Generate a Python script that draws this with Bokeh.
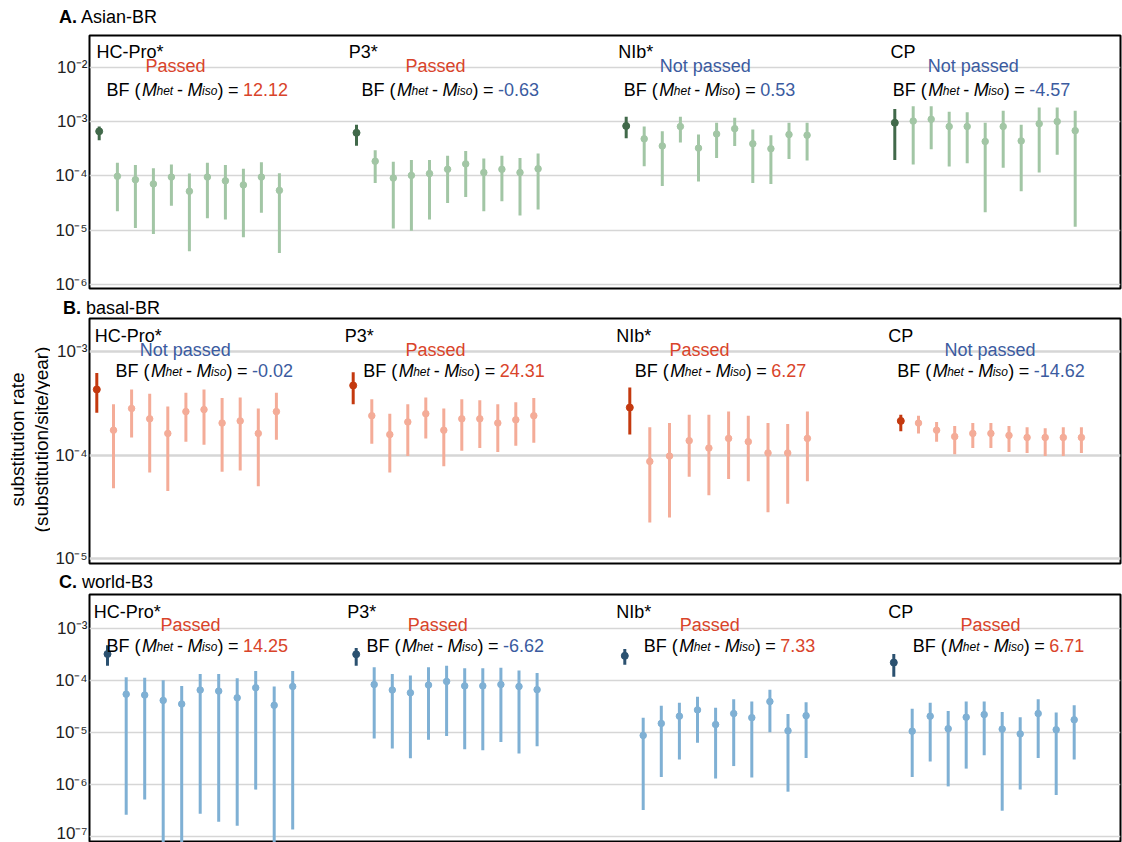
import math
from bokeh.plotting import figure
from bokeh.models import (ColumnDataSource, Range1d, FixedTicker, Label,
                          CustomJSTickFormatter, Div)
from bokeh.layouts import column, row
from bokeh.core.properties import value
from bokeh.embed import file_html
from bokeh.resources import INLINE

# ---------------- data ----------------
genes = ["HC-Pro*", "P3*", "NIb*", "CP"]
panel_titles = [("A.", "Asian-BR"), ("B.", "basal-BR"), ("C.", "world-B3")]
y_label_lines = ["substitution rate", "(substitution/site/year)"]

# Panel A (Asian-BR): heterogeneous model (dark) + per-lineage (light)
A_dark_mid = [6.6e-4, 6.2e-4, 8.3e-4, 9.5e-4]
A_dark_hi = [8.1e-4, 8.7e-4, 1.23e-3, 1.70e-3]
A_dark_lo = [4.5e-4, 3.6e-4, 4.9e-4, 1.95e-4]
A_mid = [
    [9.8e-5, 8.5e-5, 7.1e-5, 9.5e-5, 5.2e-5, 9.5e-5, 8.1e-5, 6.8e-5, 9.5e-5, 5.4e-5],
    [1.86e-4, 9.1e-5, 1.02e-4, 1.10e-4, 1.32e-4, 1.66e-4, 1.15e-4, 1.32e-4, 1.15e-4, 1.35e-4],
    [4.8e-4, 3.55e-4, 8.1e-4, 3.24e-4, 5.9e-4, 7.4e-4, 3.9e-4, 3.16e-4, 5.75e-4, 5.6e-4],
    [1.02e-3, 1.10e-3, 8.1e-4, 8.1e-4, 4.3e-4, 8.1e-4, 4.4e-4, 9.1e-4, 1.0e-3, 6.8e-4],
]
A_hi = [
    [1.74e-4, 1.58e-4, 1.38e-4, 1.62e-4, 1.10e-4, 1.74e-4, 1.58e-4, 1.35e-4, 1.78e-4, 1.12e-4],
    [2.95e-4, 1.82e-4, 1.95e-4, 1.95e-4, 2.34e-4, 2.88e-4, 2.09e-4, 2.34e-4, 2.14e-4, 2.57e-4],
    [8.1e-4, 6.6e-4, 1.23e-3, 5.75e-4, 9.5e-4, 1.17e-3, 7.1e-4, 5.6e-4, 9.5e-4, 9.5e-4],
    [1.91e-3, 1.91e-3, 1.51e-3, 1.48e-3, 9.5e-4, 1.58e-3, 8.7e-4, 1.82e-3, 1.82e-3, 1.58e-3],
]
A_lo = [
    [2.24e-5, 1.10e-5, 8.5e-6, 2.82e-5, 4.1e-6, 1.66e-5, 1.58e-5, 7.4e-6, 2.09e-5, 3.8e-6],
    [7.4e-5, 1.07e-5, 9.8e-6, 1.58e-5, 3.16e-5, 4.1e-5, 2.24e-5, 3.39e-5, 1.86e-5, 2.40e-5],
    [1.51e-4, 6.5e-5, 4.1e-4, 7.9e-5, 2.14e-4, 3.55e-4, 7.4e-5, 7.1e-5, 2.04e-4, 1.91e-4],
    [1.62e-4, 3.1e-4, 1.48e-4, 1.70e-4, 2.14e-5, 1.41e-4, 5.2e-5, 1.15e-4, 2.45e-4, 1.15e-5],
]
A_status = ["Passed", "Passed", "Not passed", "Not passed"]
A_bf = ["12.12", "-0.63", "0.53", "-4.57"]

# Panel B (basal-BR)
B_dark_mid = [4.3e-4, 4.7e-4, 2.88e-4, 2.14e-4]
B_dark_hi = [6.2e-4, 6.3e-4, 4.5e-4, 2.45e-4]
B_dark_lo = [2.57e-4, 3.1e-4, 1.58e-4, 1.70e-4]
B_mid = [
    [1.74e-4, 2.82e-4, 2.24e-4, 1.62e-4, 2.63e-4, 2.75e-4, 2.04e-4, 2.14e-4, 1.62e-4, 2.63e-4],
    [2.40e-4, 1.58e-4, 2.09e-4, 2.51e-4, 1.74e-4, 2.24e-4, 2.24e-4, 2.04e-4, 2.19e-4, 2.40e-4],
    [8.7e-5, 9.8e-5, 1.38e-4, 1.17e-4, 1.45e-4, 1.35e-4, 1.05e-4, 1.05e-4, 1.45e-4],
    [2.04e-4, 1.74e-4, 1.51e-4, 1.62e-4, 1.62e-4, 1.55e-4, 1.48e-4, 1.48e-4, 1.48e-4, 1.48e-4],
]
B_hi = [
    [3.1e-4, 4.3e-4, 3.9e-4, 2.95e-4, 4.0e-4, 4.3e-4, 3.55e-4, 3.6e-4, 2.82e-4, 4.0e-4],
    [3.47e-4, 2.51e-4, 3.1e-4, 3.6e-4, 2.82e-4, 3.47e-4, 3.39e-4, 3.1e-4, 3.24e-4, 3.55e-4],
    [1.86e-4, 2.04e-4, 2.45e-4, 2.45e-4, 2.63e-4, 2.40e-4, 2.04e-4, 2.0e-4, 2.63e-4],
    [2.40e-4, 2.09e-4, 1.91e-4, 2.04e-4, 2.04e-4, 1.91e-4, 1.86e-4, 1.82e-4, 1.86e-4, 1.86e-4],
]
B_lo = [
    [4.8e-5, 1.48e-4, 6.8e-5, 4.5e-5, 1.35e-4, 1.26e-4, 6.9e-5, 7.1e-5, 5.0e-5, 1.41e-4],
    [1.29e-4, 6.8e-5, 9.8e-5, 1.45e-4, 7.8e-5, 1.10e-4, 1.17e-4, 1.07e-4, 1.23e-4, 1.32e-4],
    [2.24e-5, 2.51e-5, 6.2e-5, 4.1e-5, 5.9e-5, 5.6e-5, 2.82e-5, 3.39e-5, 5.6e-5],
    [1.62e-4, 1.35e-4, 1.02e-4, 1.17e-4, 1.17e-4, 1.07e-4, 1.05e-4, 9.8e-5, 9.8e-5, 1.05e-4],
]
B_status = ["Not passed", "Passed", "Passed", "Not passed"]
B_bf = ["-0.02", "24.31", "6.27", "-14.62"]

# Panel C (world-B3)
C_dark_mid = [3.2e-4, 3.16e-4, 2.95e-4, 2.19e-4]
C_dark_hi = [4.7e-4, 4.2e-4, 4.0e-4, 3.2e-4]
C_dark_lo = [1.91e-4, 1.91e-4, 2.0e-4, 1.17e-4]
C_mid = [
    [5.4e-5, 5.2e-5, 4.1e-5, 3.5e-5, 6.5e-5, 6.2e-5, 4.6e-5, 7.2e-5, 3.3e-5, 7.6e-5],
    [8.3e-5, 6.5e-5, 5.75e-5, 8.1e-5, 9.5e-5, 7.8e-5, 7.8e-5, 8.3e-5, 7.6e-5, 6.6e-5],
    [8.7e-6, 1.48e-5, 2.04e-5, 2.69e-5, 1.41e-5, 2.29e-5, 1.91e-5, 3.9e-5, 1.07e-5, 2.09e-5],
    [1.05e-5, 2.04e-5, 1.17e-5, 1.95e-5, 2.19e-5, 1.15e-5, 9.3e-6, 2.29e-5, 1.12e-5, 1.74e-5],
]
C_hi = [
    [1.15e-4, 1.12e-4, 1.0e-4, 7.8e-5, 1.32e-4, 1.32e-4, 1.10e-4, 1.51e-4, 7.6e-5, 1.51e-4],
    [1.78e-4, 1.32e-4, 1.23e-4, 1.78e-4, 1.91e-4, 1.70e-4, 1.70e-4, 1.74e-4, 1.55e-4, 1.38e-4],
    [1.91e-5, 3.24e-5, 3.7e-5, 4.8e-5, 2.95e-5, 4.3e-5, 3.9e-5, 6.6e-5, 2.24e-5, 3.8e-5],
    [2.82e-5, 3.7e-5, 2.57e-5, 3.9e-5, 3.9e-5, 2.45e-5, 1.95e-5, 4.3e-5, 2.40e-5, 3.3e-5],
]
C_lo = [
    [2.6e-7, 5.1e-7, 6.3e-8, 7.1e-8, 2.7e-7, 1.9e-7, 1.6e-7, 7.9e-7, 6.3e-8, 1.35e-7],
    [7.6e-6, 4.9e-6, 3.16e-6, 7.2e-6, 8.5e-6, 4.7e-6, 4.5e-6, 6.5e-6, 3.9e-6, 5.4e-6],
    [3.2e-7, 1.38e-6, 3.0e-6, 6.3e-6, 1.29e-6, 2.24e-6, 1.35e-6, 1.0e-5, 7.2e-7, 3.2e-6],
    [1.38e-6, 2.75e-6, 9.1e-7, 2.0e-6, 3.6e-6, 3.1e-7, 7.9e-7, 3.2e-6, 6.2e-7, 3.0e-6],
]
C_status = ["Passed", "Passed", "Passed", "Passed"]
C_bf = ["14.25", "-6.62", "7.33", "6.71"]

# ---------------- layout / style ----------------
RED_TXT = "#D9442A"
BLUE_TXT = "#3B5BA0"
FONT = "Liberation Sans"
LEFT_W = 50                 # width of the strip holding the y-axis title
COL_W = 1122 - LEFT_W       # width of panel column
X0, X1 = 89, 1120           # frame in page pixels

panels = [
    dict(data=(A_dark_mid, A_dark_lo, A_dark_hi, A_mid, A_lo, A_hi, A_status, A_bf),
         dark="#41694A", light="#A2C6A5",
         strip_h=33, height=263, btop=2, bbot=8, frame_top=35,
         log_top=-1.416, log_bot=-6.074,
         ticks=[1e-6, 1e-5, 1e-4, 1e-3, 1e-2], grid_w=1.5,
         gx=[(98.7, 116.9, 18.0), (356.0, 374.7, 18.1), (625.7, 643.7, 18.1), (894.3, 912.7, 18.0)],
         lab_x=[96, 348.3, 617.7, 890], st_x=[145, 405, 659.3, 927.3], bf_x=[106, 361, 623.3, 892.3],
         base=(16.7, 30.5, 54.3), title_x=59, title_base=24),
    dict(data=(B_dark_mid, B_dark_lo, B_dark_hi, B_mid, B_lo, B_hi, B_status, B_bf),
         dark="#C4390F", light="#F4AC98",
         strip_h=20, height=253, btop=2, bbot=6, frame_top=318,
         log_top=-2.682, log_bot=-5.045,
         ticks=[1e-5, 1e-4, 1e-3], grid_w=2.5,
         gx=[(96.3, 113.0, 18.1), (352.7, 371.3, 18.0), (629.3, 649.3, 19.7), (900.3, 918.0, 18.1)],
         lab_x=[94.3, 344.3, 615.7, 887.7], st_x=[139.3, 405, 669, 944], bf_x=[115, 362.7, 634.3, 896.7],
         base=(17.7, 31.3, 52.0), title_x=63, title_base=19),
    dict(data=(C_dark_mid, C_dark_lo, C_dark_hi, C_mid, C_lo, C_hi, C_status, C_bf),
         dark="#2B5170", light="#7FB0D4",
         strip_h=23, height=250, btop=2, bbot=0, frame_top=594,
         log_top=-2.35, log_bot=-7.12,
         ticks=[1e-7, 1e-6, 1e-5, 1e-4, 1e-3], grid_w=1.5,
         gx=[(107.0, 125.7, 18.5), (355.7, 373.7, 18.1), (624.3, 642.7, 18.1), (893.3, 911.7, 18.0)],
         lab_x=[93.3, 346.7, 615.7, 887.7], st_x=[160, 407.3, 679.3, 960], bf_x=[106, 366, 643.3, 912.3],
         base=(17.7, 30.0, 51.0), title_x=59, title_base=20),
]

tick_fmt_code = """
const e = Math.round(Math.log10(tick));
const m = {"-":"\\u207b","0":"\\u2070","1":"\\u00b9","2":"\\u00b2","3":"\\u00b3",
           "4":"\\u2074","5":"\\u2075","6":"\\u2076","7":"\\u2077","8":"\\u2078","9":"\\u2079"};
return "10" + String(e).split("").map(c => m[c]).join("");
"""


def title_strip(k, cfg):
    h = cfg["strip_h"]
    t1, t2 = panel_titles[k]
    top = cfg["title_base"] - 16.3      # ascent of an 18px font with line-height 18px
    left = cfg["title_x"] - LEFT_W
    html = (f'<div style="position:relative; left:{left}px; top:{top:.1f}px; '
            f'font-family:\'{FONT}\'; font-size:18px; line-height:18px; '
            f'color:black; white-space:nowrap;"><b>{t1}</b> {t2}</div>')
    return Div(text=html, width=COL_W, height=h, margin=(0, 0, 0, 0))


def make_panel(k, cfg):
    frame_h = cfg["height"] - cfg["btop"] - cfg["bbot"]
    lt, lb = cfg["log_top"], cfg["log_bot"]

    def y_at(page_y):
        return 10 ** (lt - (page_y - cfg["frame_top"]) / frame_h * (lt - lb))

    p = figure(width=COL_W, height=cfg["height"], output_backend="svg",
               toolbar_location=None, y_axis_type="log", x_axis_location=None,
               x_range=Range1d(X0, X1), y_range=Range1d(10 ** lb, 10 ** lt),
               min_border_left=X0 - LEFT_W, min_border_right=1122 - X1,
               min_border_top=cfg["btop"], min_border_bottom=cfg["bbot"])
    p.outline_line_color = "black"
    p.outline_line_width = 2
    p.outline_line_alpha = 1
    p.background_fill_color = "white"
    p.border_fill_color = "white"
    p.xgrid.visible = False

    ticker = FixedTicker(ticks=cfg["ticks"], minor_ticks=[])
    p.yaxis.ticker = ticker
    p.ygrid.ticker = ticker
    p.ygrid.grid_line_color = "#D6D6D6"
    p.ygrid.grid_line_width = cfg["grid_w"]
    p.yaxis.formatter = CustomJSTickFormatter(code=tick_fmt_code)
    p.yaxis.axis_line_color = None
    p.yaxis.major_tick_line_color = None
    p.yaxis.minor_tick_line_color = None
    p.yaxis.major_tick_out = 0
    p.yaxis.major_tick_in = 0
    p.yaxis.minor_tick_out = 0
    p.yaxis.minor_tick_in = 0
    p.yaxis.major_label_text_font = FONT
    p.yaxis.major_label_text_font_size = "17px"
    p.yaxis.major_label_text_color = "#222222"
    p.yaxis.major_label_standoff = 2

    dmid, dlo, dhi, mids, los, his, status, bf = cfg["data"]
    lx, ly0, ly1, lm = [], [], [], []
    dx = []
    for g in range(4):
        xd, xl, step = cfg["gx"][g]
        dx.append(xd)
        for i, m in enumerate(mids[g]):
            lx.append(xl + i * step)
            lm.append(m)
            ly0.append(los[g][i])
            ly1.append(his[g][i])
    ls = ColumnDataSource(dict(x=lx, lo=ly0, hi=ly1, mid=lm))
    ds = ColumnDataSource(dict(x=dx, lo=dlo, hi=dhi, mid=dmid))
    p.segment(x0="x", x1="x", y0="lo", y1="hi", source=ls,
              line_color=cfg["light"], line_width=3)
    p.scatter(x="x", y="mid", source=ls, size=6.5, marker="circle",
              fill_color=cfg["light"], line_color=cfg["light"])
    p.segment(x0="x", x1="x", y0="lo", y1="hi", source=ds,
              line_color=cfg["dark"], line_width=3)
    p.scatter(x="x", y="mid", source=ds, size=7, marker="circle",
              fill_color=cfg["dark"], line_color=cfg["dark"])

    def lab(x, page_y, text, size="18px", style="normal", color="black", xoff=0):
        p.add_layout(Label(x=x, y=y_at(page_y), text=text, x_offset=xoff,
                           text_font=FONT, text_font_size=size,
                           text_font_style=style, text_color=color,
                           text_align="left", text_baseline="alphabetic"))

    ft = cfg["frame_top"]
    b_lab, b_st, b_bf = cfg["base"]
    for g in range(4):
        lab(cfg["lab_x"][g], ft + b_lab, genes[g])
        st = status[g]
        lab(cfg["st_x"][g], ft + b_st, st,
            color=RED_TXT if st == "Passed" else BLUE_TXT)
        bx = cfg["bf_x"][g]
        yb = ft + b_bf
        lab(bx, yb, "BF (")
        lab(bx, yb, "M", style="italic", xoff=35.5)
        lab(bx, yb + 1.5, "het", size="12px", style="italic", xoff=50)
        lab(bx, yb, "-", xoff=70.5)
        lab(bx, yb, "M", style="italic", xoff=81)
        lab(bx, yb + 1.5, "iso", size="12px", style="italic", xoff=95.5)
        lab(bx, yb, ")", xoff=111)
        lab(bx, yb, "=", xoff=121.5)
        val = bf[g]
        lab(bx, yb, val, xoff=136.5,
            color=RED_TXT if float(val) > 1 else BLUE_TXT)
    return p


# left strip with the y-axis title (page coordinates)
left = figure(width=LEFT_W, height=842, output_backend="svg", toolbar_location=None,
              x_axis_location=None, y_axis_location=None,
              x_range=Range1d(0, LEFT_W), y_range=Range1d(842, 0), min_border=0)
left.outline_line_color = None
left.grid.visible = False
left.text(x=[16.5, 40.5], y=[439, 439], text=y_label_lines, text_font=value(FONT),
          text_font_size="19px", text_color="black", angle=math.pi / 2,
          text_align="center", text_baseline="middle")

items = []
for k, cfg in enumerate(panels):
    items.append(title_strip(k, cfg))
    items.append(make_panel(k, cfg))

layout = row(left, column(*items, spacing=0), spacing=0)
open("out.html", "w").write(file_html(layout, INLINE))
